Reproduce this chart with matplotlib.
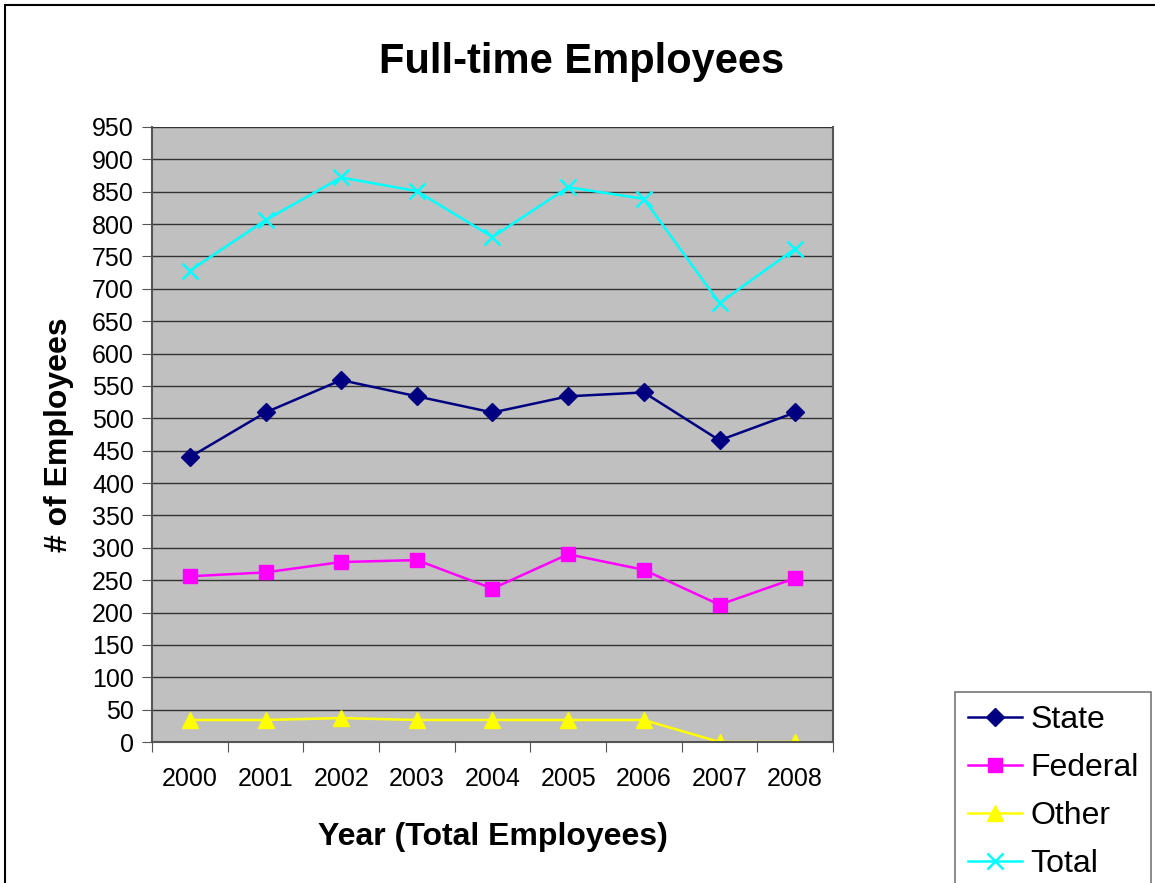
import matplotlib
matplotlib.use("Agg")
from matplotlib import pyplot as plt
from matplotlib.patches import Rectangle
from matplotlib.ticker import FixedLocator, NullFormatter

plt.rcParams["font.family"] = ["Liberation Sans", "DejaVu Sans"]

years = ["2000", "2001", "2002", "2003", "2004", "2005", "2006", "2007", "2008"]
state = [440, 509, 559, 534, 509, 534, 540, 466, 509]
federal = [256, 262, 278, 281, 237, 290, 266, 212, 253]
other = [34, 34, 37, 34, 34, 34, 34, 0, 0]
total = [728, 806, 872, 851, 780, 857, 839, 678, 762]

W, H = 1155, 883
fig = plt.figure(figsize=(W / 100, H / 100), dpi=100)
ax = fig.add_axes([152 / W, 1 - 742 / H, (833 - 152) / W, (742 - 127) / H])
ax.set_facecolor("#C0C0C0")

x = list(range(len(years)))
ax.plot(x, state, color="#000080", marker="D", markersize=9, lw=1.8, label="State")
ax.plot(x, federal, color="#FF00FF", marker="s", markersize=10, lw=1.8, label="Federal")
ax.plot(x, other, color="#FFFF00", marker="^", markersize=11, lw=1.8, label="Other")
ax.plot(x, total, color="#00FFFF", marker="x", markersize=11, mew=1.8, lw=1.8, label="Total")

ax.set_ylim(0, 950)
ax.set_yticks(range(0, 951, 50))
ax.set_xlim(-0.5, len(years) - 0.5)
ax.xaxis.set_major_locator(FixedLocator([i - 0.5 for i in range(len(years) + 1)]))
ax.xaxis.set_major_formatter(NullFormatter())
ax.xaxis.set_minor_locator(FixedLocator(x))
ax.set_xticklabels(years, minor=True)
ax.tick_params(axis="x", which="minor", length=0, labelsize=18, pad=18)
ax.tick_params(axis="x", which="major", length=7, color="#555555")
ax.tick_params(axis="y", labelsize=18, length=7, color="#555555", pad=6)

ax.grid(axis="y", color="#333333", lw=1)
ax.set_axisbelow(True)
for s in ["left", "bottom", "right"]:
    ax.spines[s].set_color("#555555")
    ax.spines[s].set_linewidth(1.5)
ax.spines["top"].set_visible(False)

ax.set_xlabel("Year (Total Employees)", fontsize=23, fontweight="bold", labelpad=22)
ax.set_ylabel("# of Employees", fontsize=23, fontweight="bold", labelpad=13)
fig.text(582 / W, 1 - 62 / H, "Full-time Employees", fontsize=30, fontweight="bold",
         ha="center", va="center")

leg = fig.legend(loc="upper left", bbox_to_anchor=(955 / W, 1 - 692 / H), borderaxespad=0,
                 fontsize=23, frameon=True, fancybox=False, edgecolor="#555555",
                 handlelength=1.7, labelspacing=0.57, borderpad=0.4, handletextpad=0.25)
leg.get_frame().set_linewidth(1.2)

fig.patches.append(Rectangle((5 / W, -0.1), 1.2, 1 - 5 / H + 0.1, transform=fig.transFigure,
                             fill=False, edgecolor="black", lw=1.5, zorder=0))

fig.savefig("out.png", dpi=100)
